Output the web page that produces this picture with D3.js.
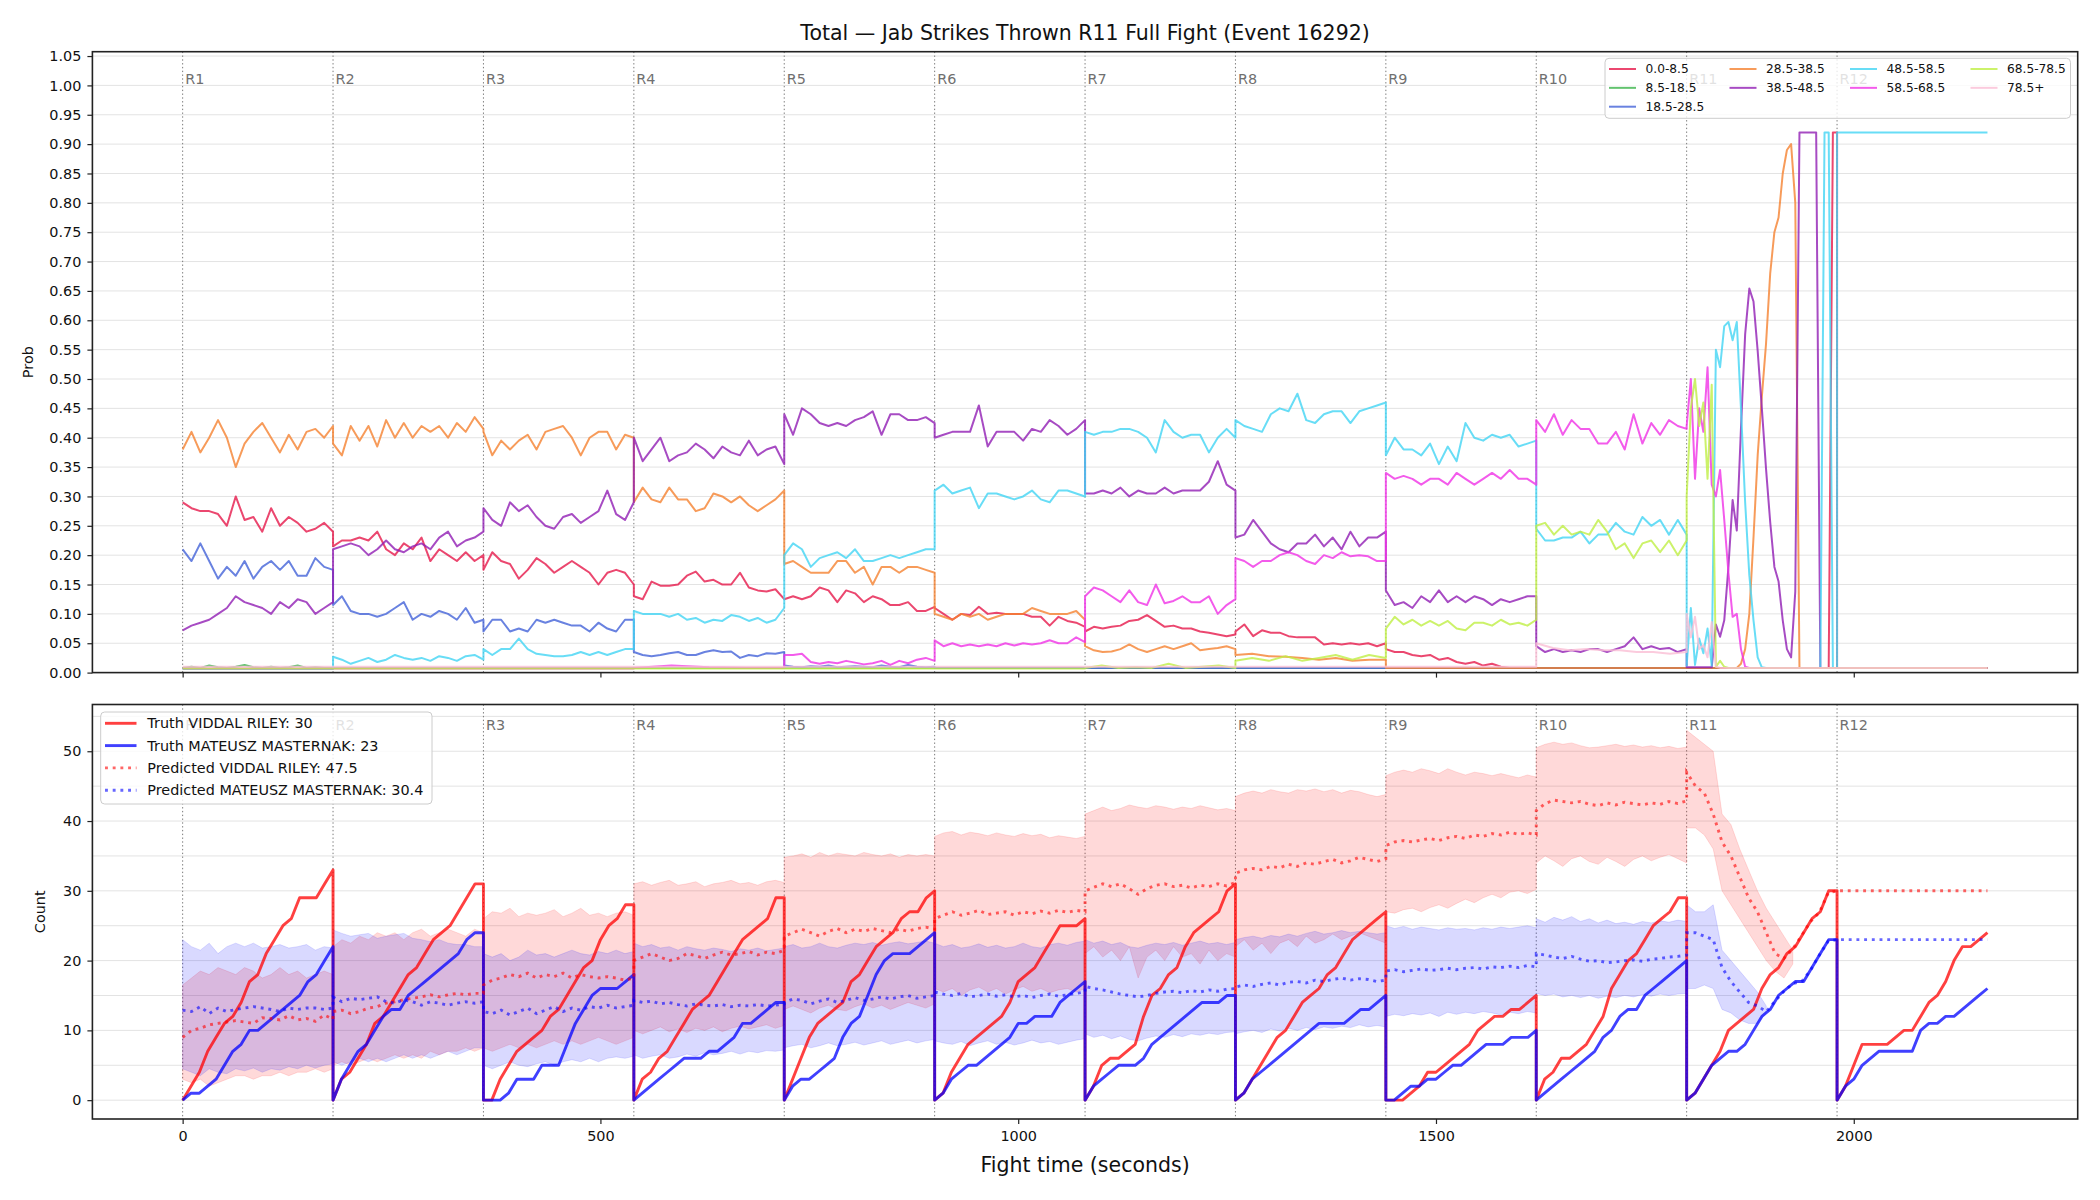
<!DOCTYPE html>
<html><head><meta charset="utf-8">
<script src="https://cdn.jsdelivr.net/npm/d3@7"></script>
<style>body{margin:0;background:#fff} svg{display:block} text{font-family:"DejaVu Sans",sans-serif}</style>
</head><body><svg id="chart" width="2100" height="1200"></svg>
<script>
// ---------------- DATA ----------------
const ROUND = 180;
const roundLabels = ["R1","R2","R3","R4","R5","R6","R7","R8","R9","R10","R11","R12"];
const binLabels = ["0.0-8.5","8.5-18.5","18.5-28.5","28.5-38.5","38.5-48.5","48.5-58.5","58.5-68.5","68.5-78.5","78.5+"];
const binColors = ["#e6194b","#3cb44b","#4363d8","#f58231","#911eb4","#42d4f4","#f032e6","#bfef45","#fabed4"];
const probTicks = [0,0.05,0.1,0.15,0.2,0.25,0.3,0.35,0.4,0.45,0.5,0.55,0.6,0.65,0.7,0.75,0.8,0.85,0.9,0.95,1.0,1.05];
const countTicks = [0,10,20,30,40,50];
const countGrid = [0,5,10,15,20,25,30,35,40,45,50,55];
const timeTicks = [0,500,1000,1500,2000];

// probability per bin, one array per round (values evenly spread over the round)
const prob0 = [ // 0.0-8.5
 [0.29,0.28,0.275,0.275,0.27,0.25,0.30,0.26,0.265,0.24,0.28,0.25,0.265,0.255,0.24,0.245,0.255,0.24],
 [0.215,0.225,0.225,0.23,0.225,0.24,0.21,0.20,0.22,0.21,0.23,0.19,0.21,0.20,0.19,0.205,0.19,0.20],
 [0.175,0.205,0.19,0.185,0.16,0.175,0.195,0.185,0.17,0.18,0.19,0.18,0.17,0.15,0.17,0.175,0.17,0.15],
 [0.13,0.125,0.155,0.148,0.148,0.15,0.165,0.172,0.155,0.158,0.15,0.15,0.17,0.145,0.14,0.138,0.142,0.125],
 [0.125,0.13,0.125,0.13,0.145,0.14,0.12,0.14,0.135,0.12,0.13,0.125,0.115,0.115,0.12,0.105,0.105,0.112],
 [0.11,0.10,0.09,0.10,0.098,0.112,0.10,0.102,0.10,0.10,0.10,0.095,0.095,0.08,0.095,0.088,0.085,0.078],
 [0.07,0.078,0.075,0.078,0.08,0.088,0.09,0.098,0.088,0.078,0.08,0.075,0.075,0.07,0.068,0.065,0.062,0.065],
 [0.07,0.082,0.062,0.072,0.068,0.068,0.062,0.06,0.06,0.06,0.048,0.05,0.048,0.05,0.048,0.05,0.045,0.05],
 [0.04,0.035,0.035,0.03,0.028,0.03,0.022,0.025,0.018,0.015,0.018,0.012,0.015,0.01,0.008,0.008,0.008,0.008],
 [0.008,0.008],
 [0.008,0.008,0.008,0.008,0.008, 0.008,0.008,0.008,0.008,0.008, 0.008,0.008,0.008,0.008,0.008, 0.008,0.008,0.008,0.008,0.008,
  0.008,0.008,0.008,0.008,0.008, 0.008,0.008,0.008,0.008,0.008, 0.008,0.008,0.008,0.008,0.008, 0.92,0.92],
 [0.008,0.008]
];
const prob1 = [ // 8.5-18.5
 [0.008,0.01,0.008,0.012,0.009,0.008,0.01,0.013,0.009,0.008,0.01,0.008,0.009,0.012,0.008,0.009,0.008,0.008],
 [0.008,0.008],[0.008,0.008],[0.008,0.008],[0.008,0.008],[0.008,0.008],
 [0.008,0.008],[0.008,0.008],[0.008,0.008],[0.008,0.008],[0.008,0.008],[0.008,0.008]
];
const prob2 = [ // 18.5-28.5
 [0.21,0.19,0.22,0.19,0.16,0.18,0.165,0.19,0.16,0.18,0.19,0.175,0.19,0.165,0.165,0.195,0.18,0.175],
 [0.115,0.13,0.105,0.10,0.10,0.095,0.10,0.11,0.12,0.09,0.10,0.095,0.105,0.10,0.09,0.11,0.085,0.09],
 [0.07,0.09,0.09,0.07,0.075,0.07,0.09,0.085,0.09,0.085,0.08,0.08,0.07,0.085,0.075,0.07,0.09,0.09],
 [0.035,0.03,0.028,0.03,0.033,0.035,0.03,0.03,0.035,0.038,0.035,0.036,0.025,0.03,0.028,0.033,0.032,0.035],
 [0.012,0.01,0.009,0.011,0.01,0.012,0.009,0.01,0.011,0.01,0.009,0.012,0.01,0.009,0.013,0.01,0.009,0.01],
 [0.008,0.008],[0.008,0.008],[0.008,0.008],[0.008,0.008],[0.008,0.008],[0.008,0.008],[0.008,0.008]
];
const prob3 = [ // 28.5-38.5
 [0.38,0.41,0.375,0.40,0.43,0.40,0.35,0.39,0.41,0.425,0.40,0.375,0.405,0.38,0.41,0.415,0.40,0.42],
 [0.39,0.37,0.42,0.395,0.42,0.385,0.43,0.40,0.425,0.40,0.42,0.41,0.42,0.40,0.425,0.41,0.435,0.415],
 [0.41,0.37,0.395,0.38,0.395,0.405,0.38,0.41,0.415,0.42,0.40,0.37,0.40,0.41,0.41,0.38,0.405,0.40],
 [0.29,0.315,0.295,0.29,0.315,0.295,0.295,0.275,0.28,0.305,0.30,0.29,0.30,0.285,0.275,0.285,0.295,0.31],
 [0.185,0.19,0.18,0.17,0.17,0.17,0.19,0.19,0.17,0.18,0.15,0.18,0.18,0.17,0.18,0.18,0.175,0.17],
 [0.10,0.095,0.09,0.10,0.095,0.10,0.09,0.095,0.10,0.10,0.10,0.11,0.105,0.10,0.10,0.10,0.105,0.09],
 [0.045,0.038,0.035,0.036,0.04,0.048,0.04,0.035,0.04,0.045,0.04,0.045,0.05,0.038,0.04,0.042,0.045,0.04],
 [0.03,0.032,0.028,0.027,0.025,0.022,0.025,0.02,0.022,0.022],
 [0.008,0.008],
 [0.008,0.008],
 [0.008,0.008,0.008,0.008,0.008, 0.008,0.008,0.008,0.008,0.008, 0.008,0.008,0.008,
  0.015,0.04,0.10,0.23,0.37,0.47,0.56,0.68,0.75,0.775,0.85,0.89,0.90,0.80,
  0.008,0.008,0.008,0.008,0.008, 0.008,0.008,0.008,0.008,0.008],
 [0.008,0.008]
];
const prob4 = [ // 38.5-48.5
 [0.072,0.08,0.085,0.09,0.10,0.11,0.13,0.12,0.115,0.11,0.10,0.12,0.11,0.125,0.12,0.10,0.11,0.12],
 [0.21,0.215,0.22,0.215,0.20,0.21,0.225,0.21,0.205,0.215,0.22,0.21,0.23,0.24,0.215,0.225,0.23,0.24],
 [0.28,0.26,0.25,0.29,0.275,0.285,0.265,0.25,0.245,0.265,0.27,0.255,0.265,0.275,0.31,0.27,0.26,0.29],
 [0.40,0.36,0.38,0.40,0.36,0.37,0.375,0.39,0.38,0.365,0.385,0.375,0.37,0.395,0.37,0.38,0.385,0.355],
 [0.44,0.405,0.45,0.44,0.425,0.42,0.425,0.42,0.43,0.435,0.445,0.405,0.44,0.44,0.43,0.43,0.435,0.425],
 [0.40,0.405,0.41,0.41,0.41,0.455,0.385,0.41,0.41,0.41,0.395,0.415,0.41,0.43,0.42,0.405,0.415,0.43],
 [0.305,0.305,0.31,0.305,0.315,0.30,0.31,0.305,0.305,0.315,0.305,0.31,0.31,0.31,0.325,0.36,0.32,0.31],
 [0.23,0.235,0.26,0.24,0.22,0.21,0.205,0.22,0.22,0.235,0.215,0.23,0.21,0.24,0.215,0.23,0.23,0.24],
 [0.14,0.115,0.12,0.11,0.13,0.12,0.14,0.12,0.13,0.12,0.13,0.125,0.115,0.125,0.12,0.125,0.13,0.13],
 [0.045,0.035,0.04,0.035,0.038,0.035,0.04,0.04,0.035,0.04,0.045,0.06,0.04,0.045,0.04,0.042,0.035,0.04],
 [0.009,0.009,0.009,0.009,0.009,0.009,0.009,
  0.082,0.061,0.089,0.18,0.294,0.242,0.416,0.576,0.654,0.632,0.548,0.45,0.347,0.256,0.18,0.155,0.089,0.04,0.026,0.138,
  0.92,0.92,0.92,0.92,0.92, 0.008,0.008,0.008,0.008,0.008],
 [0.008,0.008]
];
const prob5 = [ // 48.5-58.5
 [0.006,0.006],
 [0.027,0.022,0.015,0.02,0.025,0.018,0.022,0.03,0.025,0.022,0.025,0.02,0.028,0.025,0.02,0.028,0.03,0.022],
 [0.04,0.03,0.04,0.04,0.058,0.04,0.032,0.03,0.028,0.028,0.03,0.035,0.03,0.035,0.03,0.035,0.04,0.04],
 [0.105,0.10,0.10,0.10,0.095,0.10,0.09,0.093,0.085,0.09,0.088,0.098,0.095,0.088,0.093,0.085,0.09,0.11],
 [0.20,0.22,0.21,0.18,0.195,0.20,0.205,0.195,0.21,0.19,0.19,0.195,0.20,0.195,0.20,0.205,0.21,0.21],
 [0.31,0.32,0.305,0.31,0.315,0.28,0.305,0.305,0.30,0.295,0.30,0.31,0.295,0.29,0.31,0.31,0.305,0.30],
 [0.41,0.405,0.41,0.41,0.415,0.415,0.41,0.40,0.375,0.43,0.41,0.40,0.405,0.405,0.375,0.40,0.415,0.40],
 [0.43,0.42,0.415,0.41,0.44,0.45,0.445,0.475,0.43,0.425,0.44,0.445,0.445,0.425,0.445,0.45,0.455,0.46],
 [0.37,0.40,0.38,0.38,0.37,0.39,0.355,0.385,0.36,0.425,0.40,0.395,0.405,0.40,0.405,0.385,0.39,0.395],
 [0.245,0.225,0.225,0.23,0.23,0.24,0.22,0.235,0.235,0.255,0.24,0.235,0.265,0.25,0.26,0.235,0.26,0.235],
 [0.012,0.11,0.013,0.058,0.033,0.075,0.012,0.55,0.52,0.59,0.597,0.566,0.597,0.45,0.29,0.166,0.089,0.026,0.009,
  0.008,0.008,0.008,0.008,0.008,0.008,0.008, 0.008,0.008,0.008,0.008,0.008,0.008,0.008,
  0.92,0.92,0.008,0.008],
 [0.92,0.92]
];
const prob6 = [ // 58.5-68.5
 [0.007,0.007],[0.007,0.007],[0.007,0.007],
 [0.008,0.012,0.009,0.008,0.008],
 [0.03,0.03,0.032,0.018,0.015,0.018,0.016,0.02,0.017,0.014,0.016,0.02,0.013,0.02,0.016,0.022,0.025,0.02],
 [0.055,0.045,0.05,0.045,0.048,0.045,0.048,0.045,0.05,0.046,0.05,0.048,0.05,0.055,0.05,0.05,0.06,0.052],
 [0.13,0.145,0.14,0.13,0.12,0.14,0.12,0.115,0.15,0.118,0.122,0.13,0.12,0.12,0.13,0.10,0.115,0.125],
 [0.195,0.19,0.18,0.19,0.19,0.20,0.205,0.20,0.19,0.185,0.20,0.195,0.205,0.198,0.20,0.198,0.19,0.19],
 [0.34,0.33,0.335,0.33,0.32,0.33,0.33,0.32,0.34,0.33,0.32,0.33,0.34,0.33,0.345,0.33,0.33,0.32],
 [0.43,0.41,0.44,0.405,0.43,0.415,0.415,0.39,0.39,0.41,0.38,0.44,0.39,0.425,0.405,0.43,0.42,0.415],
 [0.42,0.50,0.33,0.45,0.41,0.52,0.32,0.30,0.345,0.26,0.17,0.095,0.10,0.04,0.01,
  0.008,0.008,0.008,0.008,0.008,0.008,0.008,0.008,0.008,0.008,0.008,
  0.008,0.008,0.008,0.008,0.008,0.008,0.008,0.008,0.008,0.008,0.008],
 [0.008,0.008]
];
const prob7 = [ // 68.5-78.5
 [0.007,0.007],[0.007,0.007],[0.007,0.007],[0.007,0.007],[0.007,0.007],[0.007,0.007],
 [0.008,0.012,0.008,0.009,0.008,0.015,0.008,0.01,0.012,0.008],
 [0.02,0.025,0.02,0.028,0.02,0.025,0.03,0.022,0.03,0.025],
 [0.075,0.095,0.082,0.09,0.08,0.088,0.08,0.088,0.075,0.072,0.085,0.085,0.08,0.09,0.082,0.085,0.08,0.09],
 [0.25,0.255,0.235,0.25,0.235,0.24,0.235,0.26,0.24,0.21,0.22,0.195,0.22,0.225,0.205,0.225,0.20,0.225],
 [0.30,0.45,0.50,0.42,0.46,0.33,0.49,0.01,0.02,0.01,
  0.008,0.008,0.008,0.008,0.008,0.008,0.008,0.008,0.008,
  0.008,0.008,0.008,0.008,0.008,0.008,0.008,0.008,0.008,
  0.008,0.008,0.008,0.008,0.008,0.008,0.008,0.008,0.008],
 [0.008,0.008]
];
const prob8 = [ // 78.5+
 [0.01,0.01],[0.01,0.01],[0.01,0.01],[0.01,0.01],[0.01,0.01],[0.01,0.01],[0.01,0.01],[0.01,0.01],[0.01,0.01],
 [0.05,0.042,0.038,0.04,0.038,0.038,0.035,0.035,0.032,0.035],
 [0.10,0.06,0.095,0.04,0.047,0.026,0.086,0.01,
  0.008,0.008,0.008,0.008,0.008,0.008,0.008,0.008,0.008,0.008,
  0.008,0.008,0.008,0.008,0.008,0.008,0.008,0.008,0.008,0.008,
  0.008,0.008,0.008,0.008,0.008,0.008,0.008,0.008,0.008],
 [0.008,0.008]
];
const probSeries = [prob0,prob1,prob2,prob3,prob4,prob5,prob6,prob7,prob8];

// cumulative counts within each round (every 10 s, 0..180)
const truthRiley = [
 [0,2,4,7,9,11,12,14,17,18,21,23,25,26,29,29,29,31,33],
 [0,3,4,6,8,11,12,14,16,18,19,21,23,24,25,27,29,31,31],
 [0,0,3,5,7,8,9,10,12,13,15,17,19,20,23,25,26,28,28],
 [0,3,4,6,7,9,11,13,14,15,17,19,21,23,24,25,26,29,29],
 [0,3,6,9,11,12,13,14,17,18,20,22,23,24,26,27,27,29,30],
 [0,1,4,6,8,9,10,11,12,14,17,18,19,21,23,25,25,25,26],
 [0,2,5,6,6,7,8,12,15,16,18,19,22,24,25,26,27,30,31],
 [0,1,3,5,7,9,10,12,14,15,16,18,19,21,23,24,25,26,27],
 [0,0,0,1,2,4,4,5,6,7,8,10,11,12,12,13,13,14,15],
 [0,3,4,6,6,7,8,10,12,16,18,20,21,23,25,26,27,29,29],
 [0,1,3,5,7,10,11,12,13,16,18,19,21,22,24,26,27,30,30],
 [0,2,5,8,8,8,8,9,10,10,12,14,15,17,20,22,22,23,24]
];
const truthMasternak = [
 [0,1,1,2,3,5,7,8,10,10,11,12,13,14,15,17,18,20,22],
 [0,3,5,7,8,10,12,13,13,15,16,17,18,19,20,21,23,24,24],
 [0,0,0,1,3,3,3,5,5,5,8,11,13,15,16,16,16,17,18],
 [0,1,2,3,4,5,6,6,6,7,7,8,9,11,11,12,13,14,14],
 [0,2,3,3,4,5,6,9,11,12,15,18,20,21,21,21,22,23,24],
 [0,1,3,4,5,5,6,7,8,9,11,11,12,12,12,14,15,16,17],
 [0,2,3,4,5,5,5,6,8,9,10,11,12,13,14,14,14,15,15],
 [0,1,3,4,5,6,7,8,9,10,11,11,11,11,12,13,13,14,15],
 [0,0,1,2,2,3,3,4,5,5,6,7,8,8,8,9,9,9,10],
 [0,1,2,3,4,5,6,7,9,10,12,13,13,15,16,17,18,19,20],
 [0,1,3,5,6,7,7,8,10,12,13,15,16,17,17,19,21,23,23],
 [0,2,3,5,6,7,7,7,7,7,10,11,11,12,12,13,14,15,16]
];
const N = null;
const predRiley = [
 [9,10,10.3,10.8,11,11.2,11.4,11.2,11,11.8,11.7,11.5,12.1,11.5,11.7,11.3,12.2,11.6],
 [12.7,12.9,12.4,12.7,13.2,13.4,13.9,14.1,14.4,14.6,14.8,15.1,14.8,15.1,15.3,15.1,15.3,15.3],
 [16.5,17.2,17.5,18,17.7,18.2,17.5,18,17.7,18.2,17.5,18,17.7,17.5,17.7,17.5,17.2,17.5],
 [20,20.5,21,20.5,20,20.3,21,20.7,20.3,20.8,21.2,20.8,21,21.3,20.8,21.2,21,21.5],
 [23.5,24,24.5,24,23.5,24.2,24.6,24,24.5,24.2,24.6,24.3,24,24.5,24.2,24.6,24.8,24.5],
 [26,26.5,27,26.5,26.8,27.2,26.6,26.8,27,26.5,27,26.7,27.1,26.8,27.2,26.9,27.2,27],
 [30,30.5,31,30.6,31,30.3,29.5,30.3,30.8,31,30.6,30.8,30.4,30.8,30.6,31,30.7,31.2],
 [32.5,33,33.2,33,33.5,33.3,33.8,33.5,34,33.8,34.2,34.5,34,34.3,34.8,34.5,34.2,34.6],
 [36.5,37,37.2,37,37.3,37.5,37.2,37.6,37.8,37.5,38,37.8,38.2,38,38.4,38.1,38.3,38],
 [41.5,42.5,43,42.8,42.6,42.8,42.4,42.2,42.6,42.3,42.7,42.5,42.3,42.6,42.4,42.8,42.5,42.9],
 [47,45,44,41,37,35,32,29,27,24,21,20.3,21.7,23.6,25.6,26.9,29.7,30],
 [30,30]
];
const predRileyHi = [
 [16.5,17.5,18.5,18,19,18.5,18,19,18.5,17.5,18,19,18,18.5,17.5,18,18.5,18],
 [22,23,22.5,23.5,23,24,23.5,24,23,24,24.5,23.5,24,24.5,24,23.5,24.5,24],
 [26,27,26.8,27.5,26.3,26.8,26.5,26.8,27.3,26.3,26.8,27.5,26.5,26.8,26.3,26.8,27,26.5],
 [31,31.3,30.8,31.2,31.5,30.8,31,31.3,30.6,31,31.2,31.5,31,31.2,30.8,31.3,31.5,31.2],
 [34.8,35,35.3,34.8,35.5,35,35.4,35.2,35,35.5,35.2,35,35.3,34.8,35.2,35,35.2,35],
 [37.8,38.3,38.5,38,38.4,38.2,37.9,38.3,38,37.8,38.2,37.9,38.1,37.6,37.9,37.7,37.5,37.8],
 [41,41.5,42,41.5,41.8,42.3,42,41.8,42.2,42,41.7,42,41.8,42.2,41.9,41.6,41.8,41.5],
 [43.5,44,44.3,44,44.5,44.2,44,44.5,44.3,44.6,44.2,44.5,44,44.4,44.2,43.8,43.5,43.8],
 [46.5,47,47.3,47,47.5,47.2,46.8,47.5,47,46.6,47,46.8,46.5,46.8,46.5,46.2,46.6,46.3],
 [50.5,51,51.3,51,51.2,50.8,50.5,50.6,50.8,51,50.7,50.9,50.6,50.8,50.5,50.7,50.4,50.6],
 [53,52,51,50,41,39.5,36,33,30,27.5,25.5,23.5,21.5,N,N,N,N,N],
 [N,N]
];
const predRileyLo = [
 [3,2.5,3,2,2.5,3,3.5,3.5,3,3.5,3.5,4,3.5,4,4,4.5,4,4.5],
 [5,5.5,5,5.5,6,5.5,6,6.5,6,6.5,6,7,6.5,7,7,7.5,7,7.5],
 [7.5,7,7.5,8,7.5,8,7.5,8,8.5,8,8.5,8,8.5,9,8.5,8,8.5,9],
 [10,9.5,10,10.5,9.8,10.2,9.7,10.3,10,10.5,9.8,10.3,10.6,10.2,10.5,10.8,10.3,10.7],
 [13,13.5,13,12.5,13.2,13.6,13,12.8,13.4,13.8,13.2,13.6,13,13.5,14,13.6,13.2,13.8],
 [16,15.5,16,15,15.8,16.2,15.5,16,15.2,15.8,16.3,15.6,16,15.4,15.8,16,15.5,16],
 [21,22,20.5,21.5,20,22,17.5,20.5,21.5,20,22,20.5,21,19.5,21.5,20,21,20.5],
 [22,23,21.5,22.5,21,22.5,23,22,23.5,22.5,23,23.8,23,23.5,24,23.5,23,22.5],
 [27,26.8,27.3,27.5,27,27.6,28,27.5,28.2,28.8,28.3,29,29.5,29,29.8,30,29.6,30.2],
 [34,35,34.3,33.5,34.6,35,34.2,33.8,34.8,34.2,33.5,34.5,35,34.3,34.8,35.2,34.6,34],
 [39,39,38,36,30,28,26,24,22,20,18.5,17.5,19.5,N,N,N,N,N],
 [N,N]
];
const predMast = [
 [12.9,12.7,13.4,12.4,13.2,12.7,13,13.2,13.4,13.2,13,12.7,13.2,13,13.2,13.2,13,13.2],
 [14.8,14.1,14.6,14.4,14.6,14.8,14.1,13.9,14.4,14.1,13.6,14.1,13.9,13.6,13.9,14.1,13.9,14.1],
 [12.7,12.4,12.9,12.2,12.7,13.2,12.4,12.9,13.4,12.7,13.2,12.9,13.4,13.2,13.6,13.2,13.4,13.6],
 [14.3,14,14.2,13.8,14,13.7,13.5,13.8,13.6,13.5,13.7,13.4,13.6,13.5,13.7,13.5,13.6,13.8],
 [14,14.5,14.3,13.8,14.2,14.5,14,14.3,14.7,14.3,14.5,14.8,14.5,14.8,15,14.6,14.8,15],
 [15.5,15.2,15,15.3,14.8,15,15.2,14.9,15.1,14.8,15,14.7,15,15.2,14.9,15.1,15.3,15.5],
 [16.3,16,15.8,15.5,15.2,15,14.8,15,15.3,15.5,15.6,15.4,15.7,15.5,15.8,15.6,15.9,16],
 [16.2,16.5,16.3,16.6,16.8,16.5,16.9,17,16.8,17.2,17,17.3,17.5,17.2,17.4,17.3,17,17.2],
 [18.5,18.7,18.4,18.6,18.8,18.6,18.7,18.9,18.7,18.9,19,18.8,19.1,19,19.2,19,19.3,19.1],
 [21,20.8,20.5,20.3,20.6,20.2,19.9,20,19.7,19.8,20,20.1,19.9,20.2,20.3,20.5,20.6,20.8],
 [24,24,23.5,23,19,17,15.5,14,13.5,12.7,14.2,15.6,16.7,17,18.6,20.8,22.8,23],
 [23,23]
];
const predMastHi = [
 [23,22,21.5,22.5,21,22,22.5,22,22.5,21.8,22,22.3,21.8,22,22.3,21.5,22,21.8],
 [24.4,23.9,23.5,23.7,23.9,23.2,23.5,23.7,23.9,23.2,23,22.7,23,22.5,22.3,22.3,22,22],
 [21,20.5,21,20,20.5,21.5,20.8,21,20.5,21,21.5,21,20.8,21.3,21,21.5,21,21.3],
 [22.5,22,22.3,21.8,22,21.5,22,21.7,21.5,21.8,21.6,21.3,21.7,21.5,21.8,21.4,21.6,21.8],
 [22,22.3,21.8,22,22.5,22,21.8,22.2,22.5,22.3,22.6,22.2,22.5,22.7,22.4,22.6,22.8,22.5],
 [22.5,22,22.3,21.8,22,22.4,21.9,22.2,21.8,22,22.5,22,21.8,22.3,22.5,22.2,22.6,22.8],
 [23,22.5,22.8,22.3,22.6,22,21.8,22.2,22.5,22.3,22.6,22.2,22.5,22.8,22.4,22.6,22.3,22.6],
 [23,23.3,23.5,23.2,23.6,23.4,23.8,23.5,23.9,24.2,23.8,24,24.3,24,24.2,24,23.8,24],
 [25,24.6,24.9,24.5,24.8,24.6,24.4,24.7,24.5,24.6,24.4,24.7,24.5,24.8,24.6,24.8,25,24.7],
 [26,25.5,26.2,25.8,26.3,25.6,26,25.4,25.8,25.3,25.5,25.2,25.6,25.4,25.7,25.5,25.8,25.6],
 [28,27,27,28,21.5,20,18.5,17,15.5,13.5,N,N,N,N,N,N,N,N],
 [N,N]
];
const predMastLo = [
 [4.5,4,3.5,4.5,4,3.8,4.5,4.2,4.6,4,4.5,4.3,4.8,4.5,5,4.6,5,5.2],
 [5.5,5,5.5,6,5.5,6,5.5,6,6.5,6,6.5,6,6.5,7,6.5,7,7.5,7.5],
 [5,4.5,5,5.5,5,4.8,5.2,5.5,5,5.5,5.8,5.5,6,5.5,6,6.2,6,6.3],
 [6.5,6,6.3,6.5,6,6.2,6.6,6.3,6.8,6.5,6.7,7,6.6,7,6.8,7.1,7,7.2],
 [7.5,7.8,8,7.5,7.8,8.2,7.8,8,8.3,7.9,8.2,8.5,8,8.3,8.6,8.2,8.5,8.7],
 [8.5,8.2,8,8.4,7.8,8.2,8.5,8,8.3,7.9,8.2,8.6,8.2,8.4,8,8.3,8.6,8.8],
 [9.5,9,9.3,8.8,9.2,8.7,8.5,8.9,9.2,9,9.4,9.1,9.5,9.3,9.6,9.4,9.7,9.8],
 [9.5,9.8,10,9.7,10.2,9.9,10.3,10,10.4,10.1,10.5,10.3,10.6,10.4,10.8,10.5,10.7,10.5],
 [12,12.3,12.1,12.4,12.2,12.5,12,12.6,12.3,12.6,12.4,12.7,12.5,12.2,12.6,12.4,12.7,12.5],
 [15.3,15,15.2,14.8,15,14.7,15,14.6,14.9,14.7,15,14.8,15.1,14.9,15.2,15,15.2,15.3],
 [16,16,16.5,16,13,12.5,11.5,11,11,12.5,N,N,N,N,N,N,N,N],
 [N,N]
];

// ---------------- DRAWING ----------------
const svg = d3.select('#chart');
const FONT = '"DejaVu Sans", sans-serif';
const L = 92.4, R = 2077.7;
const top1 = 51.7, bot1 = 672.6, top2 = 704.5, bot2 = 1119;
const x = d3.scaleLinear().domain([-108, 2268]).range([L, R]);
const yP = d3.scaleLinear().domain([0, 1.0574]).range([bot1, top1]);
const yC = d3.scaleLinear().domain([-2.7, 56.7]).range([bot2, top2]);

function flatten(segs) {
  const out = [];
  segs.forEach((s, r) => {
    const n = s.length;
    s.forEach((v, i) => out.push({ t: r * ROUND + (n > 1 ? i * ROUND / (n - 1) : 0), v }));
  });
  return out;
}

svg.append('rect').attr('width', 2100).attr('height', 1200).attr('fill', '#fff');

const defs = svg.append('defs');
defs.append('clipPath').attr('id', 'c1').append('rect').attr('x', L).attr('y', top1).attr('width', R - L).attr('height', bot1 - top1);
defs.append('clipPath').attr('id', 'c2').append('rect').attr('x', L).attr('y', top2).attr('width', R - L).attr('height', bot2 - top2);

// grids
const g1 = svg.append('g');
g1.selectAll('line.grid').data(probTicks).join('line')
  .attr('x1', L).attr('x2', R).attr('y1', d => yP(d)).attr('y2', d => yP(d))
  .attr('stroke', '#e3e3e3').attr('stroke-width', 1);
const g2 = svg.append('g');
g2.selectAll('line.grid').data(countGrid).join('line')
  .attr('x1', L).attr('x2', R).attr('y1', d => yC(d)).attr('y2', d => yC(d))
  .attr('stroke', '#e3e3e3').attr('stroke-width', 1);

// round lines & labels
function roundMarks(g, yTop, yBot, labelY) {
  roundLabels.forEach((lab, r) => {
    const xx = x(r * ROUND);
    g.append('line').attr('x1', xx).attr('x2', xx).attr('y1', yTop).attr('y2', yBot)
      .attr('stroke', '#7a7a7a').attr('stroke-width', 1).attr('stroke-dasharray', '1.4,2.4');
    g.append('text').attr('x', xx + 2.5).attr('y', labelY).text(lab)
      .attr('font-size', 14.4).attr('fill', '#707070').attr('font-family', FONT);
  });
}
roundMarks(g1, top1, bot1, yP(1.0) - 1);
roundMarks(g2, top2, bot2, yC(53));

// top panel series
const lineP = d3.line().x(d => x(d.t)).y(d => yP(d.v));
const p1 = svg.append('g').attr('clip-path', 'url(#c1)');
probSeries.forEach((s, k) => {
  p1.append('path').datum(flatten(s)).attr('d', lineP).attr('fill', 'none')
    .attr('stroke', binColors[k]).attr('stroke-width', 2).attr('stroke-opacity', 0.8)
    .attr('stroke-linejoin', 'round');
});

// bottom panel
const p2 = svg.append('g').attr('clip-path', 'url(#c2)');
function band(hi, lo, color) {
  const H = flatten(hi), Lo = flatten(lo);
  const data = H.map((d, i) => ({ t: d.t, hi: d.v, lo: Lo[i].v }));
  const area = d3.area().defined(d => d.hi != null && d.lo != null)
    .x(d => x(d.t)).y0(d => yC(d.lo)).y1(d => yC(d.hi));
  p2.append('path').datum(data).attr('d', area).attr('fill', color).attr('fill-opacity', 0.15)
    .attr('stroke', color).attr('stroke-opacity', 0.12).attr('stroke-width', 1);
}
band(predRileyHi, predRileyLo, '#ff0000');
band(predMastHi, predMastLo, '#0000ff');

const lineC = d3.line().x(d => x(d.t)).y(d => yC(d.v));
p2.append('path').datum(flatten(truthRiley)).attr('d', lineC).attr('fill', 'none')
  .attr('stroke', '#ff0000').attr('stroke-opacity', 0.75).attr('stroke-width', 2.9).attr('stroke-linejoin', 'round');
p2.append('path').datum(flatten(truthMasternak)).attr('d', lineC).attr('fill', 'none')
  .attr('stroke', '#0000ff').attr('stroke-opacity', 0.75).attr('stroke-width', 2.9).attr('stroke-linejoin', 'round');
p2.append('path').datum(flatten(predRiley)).attr('d', lineC).attr('fill', 'none')
  .attr('stroke', '#ff0000').attr('stroke-opacity', 0.6).attr('stroke-width', 2.9).attr('stroke-dasharray', '2.9,4.8');
p2.append('path').datum(flatten(predMast)).attr('d', lineC).attr('fill', 'none')
  .attr('stroke', '#0000ff').attr('stroke-opacity', 0.6).attr('stroke-width', 2.9).attr('stroke-dasharray', '2.9,4.8');

// axes
function styleAxis(g) {
  g.selectAll('.domain').remove();
  g.selectAll('.tick line').attr('stroke', '#222').attr('stroke-width', 1.2);
  g.selectAll('.tick text').attr('font-size', 14.4).attr('font-family', FONT).attr('fill', '#111');
}
const ay1 = svg.append('g').attr('transform', `translate(${L},0)`)
  .call(d3.axisLeft(yP).tickValues(probTicks).tickFormat(d3.format('.2f')).tickSize(5).tickPadding(6));
styleAxis(ay1);
const ax1 = svg.append('g').attr('transform', `translate(0,${bot1})`)
  .call(d3.axisBottom(x).tickValues(timeTicks).tickFormat('').tickSize(5));
styleAxis(ax1);
const ay2 = svg.append('g').attr('transform', `translate(${L},0)`)
  .call(d3.axisLeft(yC).tickValues(countTicks).tickFormat(d3.format('d')).tickSize(5).tickPadding(6));
styleAxis(ay2);
const ax2 = svg.append('g').attr('transform', `translate(0,${bot2})`)
  .call(d3.axisBottom(x).tickValues(timeTicks).tickFormat(d3.format('d')).tickSize(5).tickPadding(7));
styleAxis(ax2);

// frames
[[top1, bot1], [top2, bot2]].forEach(([a, b]) => {
  svg.append('rect').attr('x', L).attr('y', a).attr('width', R - L).attr('height', b - a)
    .attr('fill', 'none').attr('stroke', '#222').attr('stroke-width', 1.6);
});

// titles
svg.append('text').attr('x', (L + R) / 2).attr('y', 39.5).attr('text-anchor', 'middle')
  .attr('font-size', 20.5).attr('font-family', FONT).attr('fill', '#111')
  .text('Total — Jab Strikes Thrown R11 Full Fight (Event 16292)');
svg.append('text').attr('x', (L + R) / 2).attr('y', 1172).attr('text-anchor', 'middle')
  .attr('font-size', 20.5).attr('font-family', FONT).attr('fill', '#111').text('Fight time (seconds)');
svg.append('text').attr('transform', `translate(28,${(top1 + bot1) / 2}) rotate(-90)`).attr('dy', '0.35em')
  .attr('text-anchor', 'middle').attr('font-size', 14.4).attr('font-family', FONT).attr('fill', '#111').text('Prob');
svg.append('text').attr('transform', `translate(40,${(top2 + bot2) / 2}) rotate(-90)`).attr('dy', '0.35em')
  .attr('text-anchor', 'middle').attr('font-size', 14.4).attr('font-family', FONT).attr('fill', '#111').text('Count');

// legend (top)
const lg1 = svg.append('g');
lg1.append('rect').attr('x', 1605).attr('y', 58.3).attr('width', 465.5).attr('height', 60).attr('rx', 4)
  .attr('fill', '#fff').attr('fill-opacity', 0.8).attr('stroke', '#cccccc').attr('stroke-width', 1);
const colX = [1609, 1729.5, 1850, 1970.5];
const colRows = [[0, 1, 2], [3, 4], [5, 6], [7, 8]];
colRows.forEach((rows, c) => {
  rows.forEach((k, rI) => {
    const yy = 69 + rI * 18.85;
    lg1.append('line').attr('x1', colX[c]).attr('x2', colX[c] + 27).attr('y1', yy).attr('y2', yy)
      .attr('stroke', binColors[k]).attr('stroke-opacity', 0.8).attr('stroke-width', 2);
    lg1.append('text').attr('x', colX[c] + 36.5).attr('y', yy).attr('dy', '0.36em')
      .attr('font-size', 12.2).attr('font-family', FONT).attr('fill', '#111').text(binLabels[k]);
  });
});

// legend (bottom)
const lg2 = svg.append('g');
lg2.append('rect').attr('x', 100.7).attr('y', 712).attr('width', 331.3).attr('height', 92).attr('rx', 4)
  .attr('fill', '#fff').attr('fill-opacity', 0.8).attr('stroke', '#cccccc').attr('stroke-width', 1);
const legItems = [
  { label: 'Truth VIDDAL RILEY: 30', color: '#ff0000', op: 0.75, dash: null },
  { label: 'Truth MATEUSZ MASTERNAK: 23', color: '#0000ff', op: 0.75, dash: null },
  { label: 'Predicted VIDDAL RILEY: 47.5', color: '#ff0000', op: 0.6, dash: '2.9,4.8' },
  { label: 'Predicted MATEUSZ MASTERNAK: 30.4', color: '#0000ff', op: 0.6, dash: '2.9,4.8' }
];
legItems.forEach((it, i) => {
  const yy = 723.3 + i * 22.3;
  const ln = lg2.append('line').attr('x1', 105).attr('x2', 136.5).attr('y1', yy).attr('y2', yy)
    .attr('stroke', it.color).attr('stroke-opacity', it.op).attr('stroke-width', 2.9);
  if (it.dash) ln.attr('stroke-dasharray', it.dash);
  lg2.append('text').attr('x', 147.3).attr('y', yy).attr('dy', '0.36em')
    .attr('font-size', 14.4).attr('font-family', FONT).attr('fill', '#111').text(it.label);
});
</script></body></html>
